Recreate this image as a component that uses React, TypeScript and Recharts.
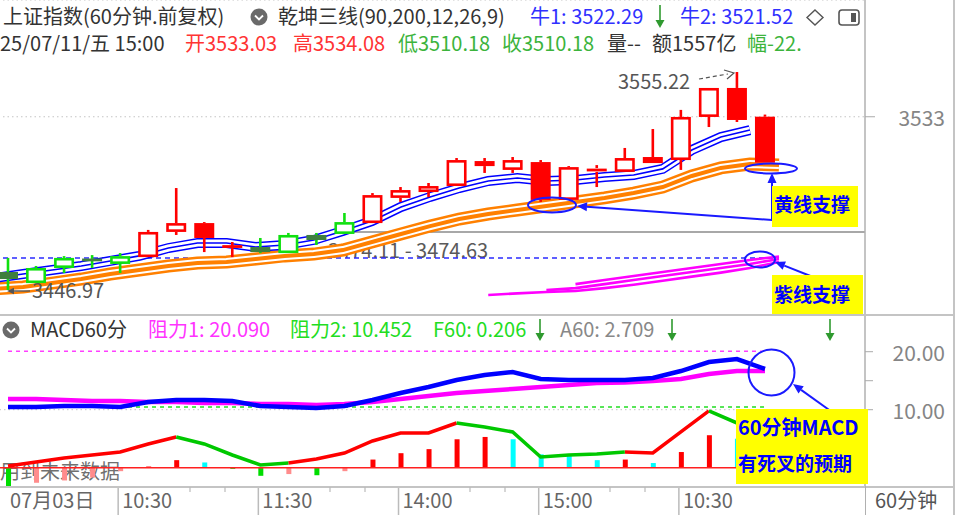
import React from "react";
import { ComposedChart, Bar, Line, XAxis, YAxis, ReferenceLine, CartesianGrid } from "recharts";

const FONT = '"Noto Sans CJK SC", "Noto Sans", sans-serif';
const RED = "#ff0000";
const GREEN = "#10e010";
const DARKGREEN = "#3f7f3f";
const BLUE = "#0000ff";
const ORANGE = "#ff8000";
const MAGENTA = "#ff00ff";
const CYAN = "#00ffff";
const PINK = "#ff8c8c";

// 60分钟K线: 07/03 - 07/11, 每天4根
const dates = ["07/03", "07/04", "07/07", "07/08", "07/09", "07/10", "07/11"];
const hours = ["10:30", "11:30", "14:00", "15:00"];

const open = [3455.9, 3450.4, 3457.9, 3461.4, 3459.9, 3463.3, 3475.8, 3480.2, 3468.3, 3468.3, 3465.3, 3474.3, 3474.8, 3480.2, 3492.7, 3495.6, 3498.6, 3511.0, 3506.6, 3510.5, 3491.7, 3507.5, 3505.6, 3513.0, 3511.5, 3532.9, 3547.3, 3533.03];
const high = [3462.9, 3458.9, 3463.8, 3464.3, 3465.3, 3476.8, 3497.6, 3480.7, 3470.8, 3472.8, 3475.3, 3475.3, 3485.2, 3495.1, 3498.1, 3500.1, 3512.5, 3512.5, 3513.0, 3511.5, 3508.5, 3509.0, 3517.5, 3526.9, 3536.4, 3547.3, 3555.22, 3534.08];
const low = [3446.97, 3450.4, 3455.4, 3457.9, 3455.4, 3463.3, 3474.3, 3465.8, 3463.3, 3465.3, 3465.3, 3469.3, 3474.8, 3480.2, 3490.7, 3493.1, 3498.6, 3505.1, 3505.1, 3490.7, 3491.7, 3498.1, 3505.6, 3510.0, 3506.6, 3527.9, 3530.4, 3510.18];
const close = [3452.4, 3457.9, 3462.9, 3462.4, 3463.8, 3475.8, 3480.2, 3472.8, 3468.8, 3465.8, 3474.3, 3471.8, 3480.7, 3494.1, 3496.6, 3498.6, 3511.5, 3508.5, 3511.5, 3491.7, 3508.0, 3505.6, 3512.5, 3510.0, 3532.9, 3547.3, 3531.4, 3510.18];
// 1 = 多头(红), 0 = 空头(绿)
const tone = [0, 0, 0, 0, 0, 1, 1, 1, 1, 0, 0, 0, 0, 1, 1, 1, 1, 1, 1, 1, 1, 1, 1, 1, 1, 1, 1, 1];

// 乾坤三线
const blueLine = [3452.9, 3454.9, 3456.9, 3458.9, 3461.4, 3463.9, 3467.8, 3470.3, 3470.3, 3468.3, 3469.3, 3471.8, 3476.3, 3481.2, 3488.2, 3493.2, 3497.6, 3501.1, 3502.6, 3501.1, 3501.6, 3503.1, 3504.1, 3507.1, 3516.5, 3522.9, 3526.4, null];
const orangeLine = [3447.5, 3448.5, 3450.4, 3452.4, 3454.9, 3456.9, 3458.9, 3460.4, 3460.9, 3462.4, 3463.9, 3464.8, 3466.8, 3470.8, 3474.8, 3478.7, 3482.2, 3484.7, 3486.7, 3488.7, 3490.7, 3492.7, 3495.1, 3498.1, 3503.6, 3507.6, 3509.5, 3509.0];
const N = null;
const purpleTop = [N, N, N, N, N, N, N, N, N, N, N, N, N, N, N, N, N, N, N, N, 3449.9, 3451.9, 3453.9, 3455.9, 3457.9, 3459.9, 3461.9, 3463.6];
const purpleMid = [N, N, N, N, N, N, N, N, N, N, N, N, N, N, N, N, N, N, N, 3446.9, 3447.9, 3449.9, 3451.9, 3453.9, 3455.9, 3457.9, 3459.9, 3462.4];
const purpleLow = [N, N, N, N, N, N, N, N, N, N, N, N, N, N, N, N, N, 3444.5, 3445.3, 3446.0, 3446.5, 3447.9, 3449.6, 3451.6, 3453.6, 3455.6, 3457.9, 3460.9];

const highMark = 3555.22;
const lowMark = 3446.97;
const dashLevel = 3462.85;
const rangeText = "3474.11 - 3474.63";

// MACD60分
const dif = [10.47, 10.47, 10.64, 10.64, 10.47, 11.33, 11.67, 11.67, 11.5, 10.64, 10.47, 10.29, 10.64, 11.67, 12.88, 13.91, 15.12, 15.98, 16.5, 15.29, 15.12, 15.12, 15.12, 15.47, 16.67, 18.22, 18.74, 17.02];
const dea = [11.84, 11.84, 11.67, 11.5, 11.5, 11.33, 11.33, 11.16, 11.16, 10.98, 10.98, 10.81, 10.98, 11.33, 11.84, 12.36, 12.88, 13.22, 13.57, 13.91, 14.26, 14.6, 14.69, 14.95, 15.29, 16.16, 16.67, 16.67];
const hist = [-3.3, -2.6, -2.2, -1.7, -0.6, 0.2, 1.3, 0.9, -0.2, -1.4, -1.1, -1.3, -0.6, 1.4, 2.5, 3.2, 4.9, 5.3, 4.9, 2.3, 2.0, 1.3, 1.4, 0.8, 2.7, 5.6, 5.0, 3.5];
const f60 = [0.29, 0.98, 1.67, 2.19, 2.71, 4.09, 5.29, 4.09, 2.19, 0.47, 0.81, 1.5, 2.53, 4.6, 5.98, 5.98, 7.71, 7.02, 6.16, 1.84, 2.19, 2.36, 2.71, 2.53, 6.16, 9.78, 7.71, 6.5];
// 每段(前一根 -> 本根)的颜色: 1 红 0 绿
const f60Up = [N, 1, 1, 1, 1, 1, 1, 0, 0, 0, 0, 1, 1, 1, 1, 1, 1, 0, 0, 0, 0, 0, 0, 1, 1, 1, 0, 0];
const res1 = 20.09;
const res2 = 10.452;

const rows = open.map((o, i) => ({
  cat: `${dates[Math.floor(i / 4)]} ${hours[i % 4]}`,
  open: o,
  high: high[i],
  low: low[i],
  close: close[i],
  tone: tone[i],
  blue: blueLine[i],
  orange: orangeLine[i],
  pTop: purpleTop[i],
  pMid: purpleMid[i],
  pLow: purpleLow[i],
  dif: dif[i],
  dea: dea[i],
  hist: hist[i],
  prevHist: i > 0 ? hist[i - 1] : hist[i],
  fRed: f60Up[i] === 1 || f60Up[i + 1] === 1 ? f60[i] : null,
  fGreen: f60Up[i] === 0 || f60Up[i + 1] === 0 ? f60[i] : null,
}));
const first = rows[0].cat;
const last = rows[rows.length - 1].cat;
const lastBar = rows[rows.length - 1];
const priceDomain = [3434.55, 3590.98];

const candleRange = (d: any) => [d.low, d.high];

function Candle(props: any) {
  const { x, y, width, height, payload } = props;
  if (x == null || y == null) return null;
  const top0 = Math.min(y, y + height);
  const h = Math.abs(height);
  const k = payload.high === payload.low ? 0 : h / (payload.high - payload.low);
  const py = (v: number) => top0 + (payload.high - v) * k;
  const up = payload.close > payload.open;
  const red = payload.tone === 1;
  const line = red ? RED : GREEN;
  const cx = x + width / 2;
  const bTop = py(Math.max(payload.open, payload.close));
  const bBot = py(Math.min(payload.open, payload.close));
  const bh = bBot - bTop;
  const sw = 2.6;
  let body;
  if (bh < 4) {
    body = <rect x={x} y={(bTop + bBot) / 2 - 1.4} width={width} height={2.8} fill={red ? RED : DARKGREEN} />;
  } else if (up) {
    body = <rect x={x + sw / 2} y={bTop + sw / 2} width={width - sw} height={bh - sw} fill="#fff" stroke={line} strokeWidth={sw} />;
  } else {
    body = <rect x={x} y={bTop} width={width} height={bh} fill={red ? RED : DARKGREEN} />;
  }
  return (
    <g>
      <rect x={cx - sw / 2} y={top0} width={sw} height={Math.max(0, bTop - top0)} fill={line} />
      <rect x={cx - sw / 2} y={bBot} width={sw} height={Math.max(0, top0 + h - bBot)} fill={line} />
      {body}
    </g>
  );
}

function HistBar(props: any) {
  const { x, y, width, height, payload } = props;
  if (x == null || y == null) return null;
  const v = payload.hist;
  const p = payload.prevHist;
  const color = v >= 0 ? (v >= p ? RED : CYAN) : v <= p ? "#00dd00" : PINK;
  return <rect x={x} y={Math.min(y, y + height)} width={width} height={Math.abs(height)} fill={color} />;
}

function PriceTick(props: any) {
  return (
    <text x={951} y={props.y} textAnchor="end" dominantBaseline="central" fill="#858585" fontSize={21} fontFamily={FONT}>
      {props.payload.value}
    </text>
  );
}

function MacdTick(props: any) {
  const v = props.payload.value;
  if (v !== 10 && v !== 20) return <g />;
  return (
    <text x={951} y={props.y} textAnchor="end" dominantBaseline="central" fill="#858585" fontSize={21} fontFamily={FONT}>
      {v.toFixed(2)}
    </text>
  );
}

const tickIdx = [0, 4, 9, 14, 19, 24];
function TimeTick(props: any) {
  const { x, index, payload } = props;
  if (!tickIdx.includes(index)) return <g />;
  const [d, t] = String(payload.value).split(" ");
  const label = index === 0 ? `${d.slice(0, 2)}月${d.slice(3)}日` : t;
  return (
    <g>
      {index > 0 && <line x1={x - 2} x2={x - 2} y1={172} y2={200} stroke="#bbb" strokeWidth={1.5} />}
      <text x={x + 2} y={193} fill="#666" fontSize={20} fontFamily={FONT}>
        {label}
      </text>
    </g>
  );
}

function band(key: string, color: string, widths: number[]) {
  return widths.map((w, j) => (
    <Line
      key={`${key}-${j}`}
      dataKey={key}
      type="linear"
      stroke={j === 1 ? "#fff" : color}
      strokeWidth={w}
      dot={false}
      activeDot={false}
      isAnimationActive={false}
    />
  ));
}

function Arrow({ x1, y1, x2, y2, color = "#1a1aff", w = 2, head = 10 }: any) {
  const a = Math.atan2(y2 - y1, x2 - x1);
  const hx = x2 - head * Math.cos(a);
  const hy = y2 - head * Math.sin(a);
  const px = Math.sin(a) * head * 0.45;
  const py = -Math.cos(a) * head * 0.45;
  return (
    <g>
      <line x1={x1} y1={y1} x2={hx} y2={hy} stroke={color} strokeWidth={w} />
      <polygon points={`${x2},${y2} ${hx + px},${hy + py} ${hx - px},${hy - py}`} fill={color} />
    </g>
  );
}

function DownArrow({ x, y1, y2 }: any) {
  return (
    <g>
      <line x1={x} x2={x} y1={y1} y2={y2 - 6} stroke="#2f9a2f" strokeWidth={1.6} />
      <polygon points={`${x},${y2} ${x - 4.5},${y2 - 8} ${x + 4.5},${y2 - 8}`} fill="#2f9a2f" />
    </g>
  );
}

function Chevron({ cx, cy }: any) {
  return (
    <g>
      <circle cx={cx} cy={cy} r={8.5} fill="#6a6a6a" />
      <polyline points={`${cx - 4},${cy - 1.5} ${cx},${cy + 2.5} ${cx + 4},${cy - 1.5}`} fill="none" stroke="#fff" strokeWidth={1.8} />
    </g>
  );
}

const txt = (left: number, top: number, color: string, s: string, size = 20) => (
  <span style={{ position: "absolute", left, top, color, fontSize: size, lineHeight: `${size}px`, whiteSpace: "nowrap" }}>{s}</span>
);

export default function App() {
  const f2 = (v: number) => v.toFixed(2);
  return (
    <div style={{ position: "absolute", left: 0, top: 0, width: 958, height: 515, overflow: "hidden", background: "#fff", fontFamily: FONT }}>
      {/* 背景层 */}
      <div style={{ position: "absolute", left: 327, top: 231, width: 538, height: 1.5, background: "#a8a8a8" }} />
      {txt(328, 240, "#5a5a5a", rangeText)}
      {txt(0, 461, "#707070", "用到未来数据", 20)}

      {/* 主图: 均线 */}
      <div style={{ position: "absolute", left: -6, top: 0 }}>
        <ComposedChart width={960} height={315} data={rows} margin={{ top: 0, right: 0, bottom: 0, left: 0 }}>
          <CartesianGrid vertical={false} stroke="#c4c4c4" strokeDasharray="1.5 3" />
          <XAxis dataKey="cat" hide padding={{ left: 0, right: 86 }} />
          <YAxis
            orientation="right"
            width={89}
            domain={priceDomain}
            ticks={[3533]}
            allowDataOverflow
            tick={<PriceTick />}
            tickSize={10}
            tickLine={{ stroke: "#aaa" }}
            axisLine={{ stroke: "#b0b0b0", strokeWidth: 1.5 }}
          />
          <ReferenceLine segment={[{ x: first, y: dashLevel }, { x: last, y: dashLevel }]} stroke="#2b2bff" strokeDasharray="5 4" strokeWidth={1.5} />
          {band("orange", ORANGE, [13, 8, 4])}
          {band("blue", BLUE, [10, 7, 1.6])}
          {["pLow", "pMid", "pTop"].map((k) => (
            <Line key={k} dataKey={k} type="linear" stroke={MAGENTA} strokeWidth={2.6} dot={false} activeDot={false} isAnimationActive={false} />
          ))}
        </ComposedChart>
      </div>

      {/* 主图: K线 (叠在均线上面) */}
      <div style={{ position: "absolute", left: -6, top: 0 }}>
        <ComposedChart width={960} height={315} data={rows} margin={{ top: 0, right: 0, bottom: 0, left: 0 }}>
          <XAxis dataKey="cat" hide padding={{ left: 0, right: 86 }} />
          <YAxis orientation="right" width={89} domain={priceDomain} allowDataOverflow tick={false} tickLine={false} axisLine={false} />
          <Bar dataKey={candleRange} barSize={20} shape={(p: any) => <Candle {...p} />} isAnimationActive={false} />
        </ComposedChart>
      </div>

      {/* 副图: MACD */}
      <div style={{ position: "absolute", left: -6, top: 315 }}>
        <ComposedChart width={960} height={200} data={rows} margin={{ top: 0, right: 0, bottom: 0, left: 0 }}>
          <XAxis dataKey="cat" height={28} padding={{ left: 0, right: 86 }} interval={0} tick={<TimeTick />} tickLine={false} axisLine={false} />
          <YAxis
            orientation="right"
            width={89}
            domain={[-3.33, 26.33]}
            ticks={[10, 15, 20]}
            allowDataOverflow
            tick={<MacdTick />}
            tickSize={8}
            tickLine={{ stroke: "#aaa" }}
            axisLine={{ stroke: "#b0b0b0", strokeWidth: 1.5 }}
          />
          <ReferenceLine y={10} stroke="#c4c4c4" strokeDasharray="1.5 3" />
          <ReferenceLine segment={[{ x: first, y: res1 }, { x: last, y: res1 }]} stroke="#ff40ff" strokeDasharray="4 4" strokeWidth={1.5} />
          <ReferenceLine segment={[{ x: first, y: res2 }, { x: last, y: res2 }]} stroke="#22dd22" strokeDasharray="4 4" strokeWidth={1.5} />
          <ReferenceLine y={0} stroke="#ff2020" strokeWidth={1.6} />
          <Line dataKey="fRed" type="linear" stroke={RED} strokeWidth={3.5} dot={false} activeDot={false} isAnimationActive={false} />
          <Line dataKey="fGreen" type="linear" stroke="#00c800" strokeWidth={3.5} dot={false} activeDot={false} isAnimationActive={false} />
          <Bar dataKey="hist" barSize={5} shape={(p: any) => <HistBar {...p} />} isAnimationActive={false} />
          <Line dataKey="dea" type="linear" stroke={MAGENTA} strokeWidth={4.5} dot={false} activeDot={false} isAnimationActive={false} />
          <Line dataKey="dif" type="linear" stroke={BLUE} strokeWidth={4.5} dot={false} activeDot={false} isAnimationActive={false} />
        </ComposedChart>
      </div>

      {/* 边框 */}
      <div style={{ position: "absolute", left: 0, top: 314, width: 955, height: 2, background: "#c4c4c4" }} />
      <div style={{ position: "absolute", left: 0, top: 486, width: 955, height: 1.5, background: "#c4c4c4" }} />
      <div style={{ position: "absolute", left: 864.5, top: 486, width: 1.5, height: 29, background: "#b0b0b0" }} />
      <div style={{ position: "absolute", left: 953, top: 0, width: 1.5, height: 515, background: "#c4c4c4" }} />

      {/* 标题 */}
      {txt(3, 6, "#333", "上证指数(60分钟.前复权)")}
      {txt(278, 6, "#333", "乾坤三线(90,200,12,26,9)")}
      {txt(530, 6, "#3030ff", "牛1: 3522.29")}
      {txt(680, 6, "#3030ff", "牛2: 3521.52")}
      {txt(0, 33, "#333", "25/07/11/五 15:00")}
      {txt(185, 33, "#ff3333", `开${f2(lastBar.open)}`)}
      {txt(293, 33, "#ff3333", `高${f2(lastBar.high)}`)}
      {txt(398, 33, "#3cb43c", `低${f2(lastBar.low)}`)}
      {txt(502, 33, "#3cb43c", `收${f2(lastBar.close)}`)}
      {txt(607, 33, "#333", "量--")}
      {txt(652, 33, "#333", "额1557亿")}
      {txt(747, 33, "#3cb43c", "幅-22.")}

      {txt(30, 319, "#333", "MACD60分")}
      {txt(148, 319, "#ff33ff", `阻力1: ${res1.toFixed(3)}`)}
      {txt(290, 319, "#22dd22", `阻力2: ${res2.toFixed(3)}`)}
      {txt(433, 319, "#22dd22", "F60: 0.206")}
      {txt(560, 319, "#888", "A60: 2.709")}
      {txt(875, 490, "#555", "60分钟")}

      {txt(618, 71, "#555", highMark.toFixed(2))}
      {txt(32, 280, "#555", lowMark.toFixed(2))}

      <svg width={958} height={515} style={{ position: "absolute", left: 0, top: 0 }}>
        <Chevron cx={259} cy={17} />
        <Chevron cx={11} cy={330} />
        <DownArrow x={660} y1={5} y2={28} />
        <DownArrow x={540} y1={319} y2={341} />
        <DownArrow x={672} y1={319} y2={341} />
        <DownArrow x={830} y1={319} y2={341} />
        <polygon points="815,10 823,17.5 815,25 807,17.5" fill="none" stroke="#555" strokeWidth={1.4} />
        <rect x={839} y={10} width={20} height={15} rx={3} fill="none" stroke="#555" strokeWidth={1.6} />
        <rect x={851} y={13} width={5} height={9} fill="#555" />
        {[190, 225, 330, 365, 470, 505, 610, 645].map((mx) => (
          <line key={mx} x1={mx} x2={mx} y1={487} y2={492} stroke="#bbb" strokeWidth={1.2} />
        ))}

        {/* 高低点 */}
        <line x1={699} y1={79} x2={728} y2={74} stroke="#555" strokeWidth={1.2} strokeDasharray="4 3" />
        <polyline points="724,70 734,73 727,79" fill="none" stroke="#555" strokeWidth={1.2} />
        <Arrow x1={30} y1={291} x2={7} y2={291} color="#555" w={1.4} head={7} />

        {/* 标注 */}
        <ellipse cx={552} cy={205} rx={24} ry={7.5} fill="none" stroke="#1a1aff" strokeWidth={2} />
        <ellipse cx={771} cy={168.5} rx={26} ry={5} fill="none" stroke="#1a1aff" strokeWidth={2} />
        <ellipse cx={760} cy={259.5} rx={15} ry={8} fill="none" stroke="#1a1aff" strokeWidth={2} />
        <circle cx={771.5} cy={372.5} r={23} fill="none" stroke="#1a1aff" strokeWidth={2} />
        <Arrow x1={772} y1={221} x2={772} y2={173} />
        <Arrow x1={772} y1={220} x2={577} y2={206} />
        <Arrow x1={813} y1={277} x2={775} y2={262} />
        <Arrow x1={832} y1={412} x2={793} y2={384} />

        <rect x={772} y={186} width={86} height={41} fill="#ffff00" />
        <rect x={772} y={275} width={91} height={39} fill="#ffff00" />
        <rect x={736} y={409} width={132} height={75} fill="#ffff00" />
        <g fill="#0000ff" fontFamily={FONT} fontWeight="bold" fontSize={19}>
          <text x={774} y={212}>黄线支撑</text>
          <text x={774} y={302}>紫线支撑</text>
          <text x={738} y={435} fontSize={20}>60分钟MACD</text>
          <text x={738} y={471}>有死叉的预期</text>
        </g>
      </svg>
    </div>
  );
}
